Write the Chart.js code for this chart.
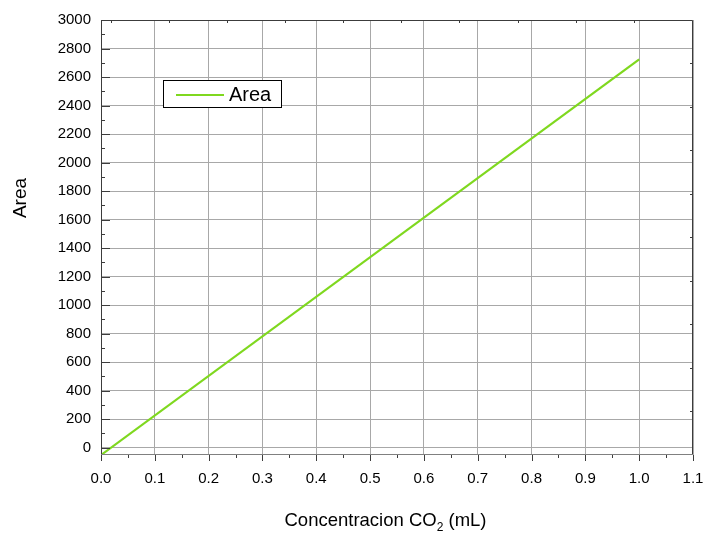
<!DOCTYPE html>
<html>
<head>
<meta charset="utf-8">
<script src="https://cdn.jsdelivr.net/npm/chart.js@4/dist/chart.umd.min.js"></script>
<style>
  html, body { margin: 0; padding: 0; background: #fff; }
  #wrap { width: 706px; height: 533px; position: relative; }
</style>
</head>
<body>
<div id="wrap"><canvas id="chart"></canvas></div>
<script>
// values
const concentracion = [0.0, 1.0];
const area = [-52, 2723];
const xTicks = [0.0, 0.1, 0.2, 0.3, 0.4, 0.5, 0.6, 0.7, 0.8, 0.9, 1.0, 1.1];
const yTicks = [0, 200, 400, 600, 800, 1000, 1200, 1400, 1600, 1800, 2000, 2200, 2400, 2600, 2800, 3000];
const topTicks = [0.99, 0.882, 0.774, 0.666, 0.558, 0.45, 0.342, 0.234, 0.126, 0.018];
const rightTicks = [2695, 2390, 2085, 1780, 1475, 1170, 865, 560, 255];

const FONT = "'Liberation Sans', Arial, sans-serif";
const LINE_COLOR = "#7fd81f";

const axisDecor = {
  id: "axisDecor",
  afterDraw(chart) {
    const { ctx, chartArea: a, scales: { x, y } } = chart;
    ctx.save();

    // frame
    ctx.lineWidth = 1;
    ctx.strokeStyle = "#3c3c3c";
    ctx.beginPath();
    ctx.moveTo(a.left + 0.5, a.bottom);
    ctx.lineTo(a.left + 0.5, a.top + 0.5);
    ctx.lineTo(a.right - 0.5, a.top + 0.5);
    ctx.lineTo(a.right - 0.5, a.bottom);
    ctx.stroke();
    ctx.strokeStyle = "#808080";
    ctx.beginPath();
    ctx.moveTo(a.left, a.bottom - 0.5);
    ctx.lineTo(a.right, a.bottom - 0.5);
    ctx.stroke();

    // left ticks (inward), major + minor
    ctx.strokeStyle = "#3c3c3c";
    ctx.beginPath();
    yTicks.forEach((v, i) => {
      const py = Math.round(y.getPixelForValue(v)) + 0.5;
      ctx.moveTo(a.left, py);
      ctx.lineTo(a.left + 9, py);
      if (i < yTicks.length - 1) {
        const pm = Math.round(y.getPixelForValue(v + 100)) + 0.5;
        ctx.moveTo(a.left, pm);
        ctx.lineTo(a.left + 4, pm);
      }
    });
    // bottom ticks (outward)
    xTicks.forEach((v, i) => {
      const px = Math.round(x.getPixelForValue(v)) + 0.5;
      ctx.moveTo(px, a.bottom);
      ctx.lineTo(px, a.bottom + 6);
      if (i < xTicks.length - 1) {
        const pm = Math.round(x.getPixelForValue(v + 0.05)) + 0.5;
        ctx.moveTo(pm, a.bottom);
        ctx.lineTo(pm, a.bottom + 3);
      }
    });
    // top and right small inward ticks
    topTicks.forEach(v => {
      const px = Math.round(x.getPixelForValue(v)) + 0.5;
      ctx.moveTo(px, a.top);
      ctx.lineTo(px, a.top + 3);
    });
    rightTicks.forEach(v => {
      const py = Math.round(y.getPixelForValue(v)) + 0.5;
      ctx.moveTo(a.right, py);
      ctx.lineTo(a.right - 3, py);
    });
    ctx.stroke();

    // y title
    ctx.fillStyle = "#000";
    ctx.font = `19px ${FONT}`;
    ctx.textAlign = "center";
    ctx.textBaseline = "middle";
    ctx.save();
    ctx.translate(21, 198);
    ctx.rotate(-Math.PI / 2);
    ctx.fillText("Area", 0, 0);
    ctx.restore();

    // x title with subscript
    const big = `18.5px ${FONT}`;
    const small = `12px ${FONT}`;
    const p1 = "Concentracion CO", p2 = "2", p3 = " (mL)";
    ctx.font = big;
    const w1 = ctx.measureText(p1).width, w3 = ctx.measureText(p3).width;
    ctx.font = small;
    const w2 = ctx.measureText(p2).width;
    let sx = 385.5 - (w1 + w2 + w3) / 2;
    const base = 526;
    ctx.textAlign = "left";
    ctx.textBaseline = "alphabetic";
    ctx.font = big;
    ctx.fillText(p1, sx, base);
    sx += w1;
    ctx.font = small;
    ctx.fillText(p2, sx, base + 5);
    sx += w2;
    ctx.font = big;
    ctx.fillText(p3, sx, base);

    // legend box
    const ds = chart.data.datasets[0];
    ctx.fillStyle = "#fff";
    ctx.fillRect(164, 81, 118, 26);
    ctx.strokeStyle = "#000";
    ctx.lineWidth = 1;
    ctx.strokeRect(163.5, 80.5, 118, 27);
    ctx.strokeStyle = ds.borderColor;
    ctx.lineWidth = 2;
    ctx.beginPath();
    ctx.moveTo(176, 95);
    ctx.lineTo(224, 95);
    ctx.stroke();
    ctx.fillStyle = "#000";
    ctx.font = `20px ${FONT}`;
    ctx.textBaseline = "middle";
    ctx.fillText(ds.label, 229, 95);

    ctx.restore();
  }
};

new Chart(document.getElementById("chart"), {
  type: "line",
  data: {
    datasets: [{
      label: "Area",
      data: concentracion.map((c, i) => ({ x: c, y: area[i] })),
      borderColor: LINE_COLOR,
      borderWidth: 2.2,
      pointRadius: 0,
      tension: 0,
      fill: false
    }]
  },
  options: {
    responsive: true,
    maintainAspectRatio: false,
    animation: false,
    layout: { padding: { top: 20, right: 13, left: 0, bottom: 0 } },
    plugins: {
      legend: { display: false },
      tooltip: { enabled: false }
    },
    scales: {
      x: {
        type: "linear",
        min: 0,
        max: 1.1,
        afterBuildTicks: scale => { scale.ticks = xTicks.map(v => ({ value: v })); },
        afterFit: scale => {
          scale.height = 78;
          scale.paddingLeft = 0;
          scale.paddingRight = 0;
        },
        border: { display: false },
        grid: { color: "#a8a8a8", lineWidth: 1, drawTicks: false },
        ticks: {
          autoSkip: false,
          maxRotation: 0,
          padding: 15,
          color: "#000",
          font: { family: FONT, size: 15 },
          callback: value => Number(value).toFixed(1)
        }
      },
      y: {
        min: -52,
        max: 3000,
        afterBuildTicks: scale => { scale.ticks = yTicks.map(v => ({ value: v })); },
        afterFit: scale => {
          scale.width = 101;
          scale.paddingTop = 0;
          scale.paddingBottom = 0;
        },
        border: { display: false },
        grid: { color: "#a8a8a8", lineWidth: 1, drawTicks: false },
        ticks: {
          autoSkip: false,
          padding: 10,
          color: "#000",
          font: { family: FONT, size: 15 },
          callback: value => String(value)
        }
      }
    }
  },
  plugins: [axisDecor]
});
</script>
</body>
</html>
